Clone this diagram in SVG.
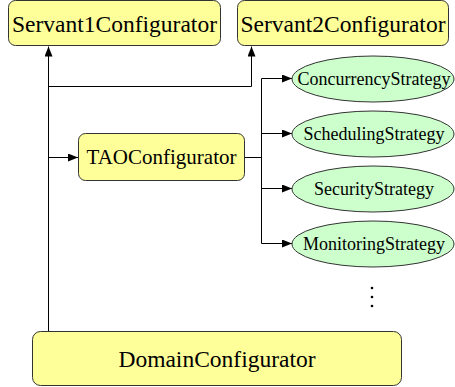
<svg xmlns="http://www.w3.org/2000/svg" width="455" height="387" viewBox="0 0 455 387">
  <style>
    .box { fill: #ffff99; stroke: #333; stroke-width: 1; }
    .oval { fill: #ccffcc; stroke: #333; stroke-width: 1; }
    text { font-family: 'Liberation Serif', 'Times New Roman', serif; fill: #000; text-anchor: middle; }
    .big { font-size: 23.5px; }
    .mid { font-size: 21px; }
    .small { font-size: 18px; }
    .wire { fill: none; stroke: #000; stroke-width: 1; }
    .dot { fill: #000; }
  </style>
  <defs>
    <marker id="arrow" viewBox="0 0 10 8" refX="10" refY="4" markerWidth="10" markerHeight="8" markerUnits="userSpaceOnUse" orient="auto">
      <path d="M0,0 L10,4 L0,8 Z" fill="#000"/>
    </marker>
  </defs>

  <g id="connectors">
    <!-- DomainConfigurator trunk up to Servant1Configurator -->
    <path class="wire" d="M48.5,331 L48.5,46.5" marker-end="url(#arrow)"/>
    <!-- branch to Servant2Configurator -->
    <path class="wire" d="M48.5,86.5 L251.5,86.5 L251.5,46.5" marker-end="url(#arrow)"/>
    <!-- branch to TAOConfigurator -->
    <path class="wire" d="M48.5,157.5 L78,157.5" marker-end="url(#arrow)"/>
    <!-- TAOConfigurator fan-out to the strategies -->
    <path class="wire" d="M245,157.5 L261.5,157.5"/>
    <path class="wire" d="M261.5,78.5 L261.5,243.5"/>
    <path class="wire" d="M261.5,78.5 L292,78.5" marker-end="url(#arrow)"/>
    <path class="wire" d="M261.5,133.5 L292,133.5" marker-end="url(#arrow)"/>
    <path class="wire" d="M261.5,188.5 L292,188.5" marker-end="url(#arrow)"/>
    <path class="wire" d="M261.5,243.5 L292,243.5" marker-end="url(#arrow)"/>
  </g>

  <g id="servant1">
    <rect class="box" x="8.5" y="0.5" width="212" height="45" rx="7"/>
    <text class="big" x="114.5" y="32">Servant1Configurator</text>
  </g>
  <g id="servant2">
    <rect class="box" x="237.5" y="0.5" width="211" height="45" rx="7"/>
    <text class="big" x="343" y="32">Servant2Configurator</text>
  </g>
  <g id="tao">
    <rect class="box" x="78.5" y="133.5" width="166" height="47" rx="7"/>
    <text class="mid" x="161.5" y="164">TAOConfigurator</text>
  </g>
  <g id="concurrency">
    <ellipse class="oval" cx="373" cy="79" rx="81" ry="23"/>
    <text class="small" x="374" y="85">ConcurrencyStrategy</text>
  </g>
  <g id="scheduling">
    <ellipse class="oval" cx="373" cy="134" rx="81" ry="23"/>
    <text class="small" x="374" y="140">SchedulingStrategy</text>
  </g>
  <g id="security">
    <ellipse class="oval" cx="373" cy="189" rx="81" ry="23"/>
    <text class="small" x="374" y="195">SecurityStrategy</text>
  </g>
  <g id="monitoring">
    <ellipse class="oval" cx="373" cy="244" rx="81" ry="23"/>
    <text class="small" x="374" y="250">MonitoringStrategy</text>
  </g>
  <g id="more">
    <circle class="dot" cx="372" cy="288" r="1.3"/>
    <circle class="dot" cx="372" cy="297" r="1.3"/>
    <circle class="dot" cx="372" cy="306" r="1.3"/>
  </g>
  <g id="domain">
    <rect class="box" x="32.5" y="331.5" width="369" height="54" rx="8"/>
    <text class="big" x="217" y="367">DomainConfigurator</text>
  </g>
</svg>
